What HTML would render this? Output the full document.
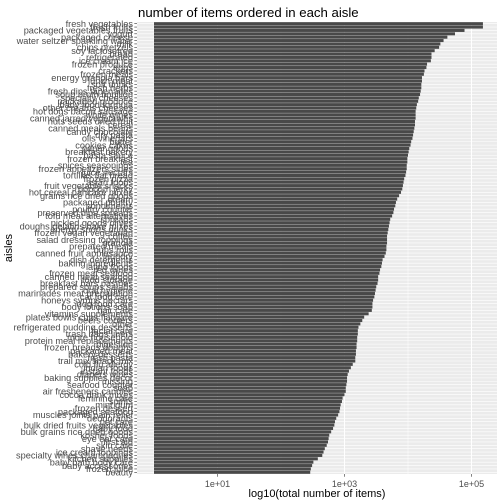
<!DOCTYPE html>
<html><head><meta charset="utf-8"><style>
html,body{margin:0;padding:0;background:#fff;}
svg{display:block;font-family:"Liberation Sans",sans-serif;}
</style></head><body>
<svg id="chart" width="504" height="504" viewBox="0 0 504 504" xmlns="http://www.w3.org/2000/svg">
<rect x="0" y="0" width="504" height="504" fill="#fff"/>
<text x="138" y="17" font-size="13.2" fill="#000">number of items ordered in each aisle</text>
<rect x="137" y="22" width="360" height="452" fill="#EBEBEB"/>
<g id="grid"></g>
<g id="bars"></g>
<g id="yaxis"></g>
<g id="xaxis"></g>
<text x="317" y="497" font-size="11" text-anchor="middle" fill="#000">log10(total number of items)</text>
<text transform="translate(12,248) rotate(-90)" font-size="11" text-anchor="middle" fill="#000">aisles</text>
</svg>
<script>
const aisles = ["fresh vegetables","fresh fruits","packaged vegetables fruits","yogurt","packaged cheese","water seltzer sparkling water","milk","chips pretzels","soy lactosefree","bread","refrigerated","ice cream ice","frozen produce","eggs","crackers","frozen meals","energy granola bars","lunch meat","soft drinks","fresh herbs","fresh dips tapenades","soup broth bouillon","specialty cheeses","packaged produce","baby food formula","other creams cheeses","hot dogs bacon sausage","white wines","canned jarred vegetables","nuts seeds dried fruit","cereal","canned meals beans","candy chocolate","dry pasta","oils vinegars","butter","cookies cakes","paper goods","breakfast bakery","pasta sauce","frozen breakfast","tea","spices seasonings","frozen appetizers sides","juice nectars","tortillas flat bread","frozen pizza","asian foods","fruit vegetable snacks","popcorn jerky","hot cereal pancake mixes","grains rice dried goods","cream","packaged poultry","condiments","poultry counter","preserved dips spreads","tofu meat alternatives","spreads","pickled goods olives","doughs gelatins bake mixes","energy sports drinks","frozen vegan vegetarian","coffee","salad dressing toppings","granola","prepared meals","buns rolls","canned fruit applesauce","laundry","dish detergents","baking ingredients","latino foods","red wines","frozen meat seafood","canned meat seafood","food storage","breakfast bars pastries","prepared soups salads","oral hygiene","marinades meat preparation","cat food care","honeys syrups nectars","dog food care","body lotions soap","hair care","vitamins supplements","plates bowls cups flatware","beers coolers","other","refrigerated pudding desserts","facial care","trash bags liners","more household","protein meal replacements","digestion","frozen breads doughs","packaged meat","bakery desserts","fresh pasta","trail mix snack mix","cold flu allergy","indian foods","instant foods","diapers wipes","baking supplies decor","missing","seafood counter","soap","air fresheners candles","cocoa drink mixes","feminine care","spirits","mint gum","frozen dessert","packaged seafood","muscles joints pain relief","deodorants","pet care","bulk dried fruits vegetables","baby food","bulk grains rice dried goods","kosher foods","eye ear care","first aid","skin care","shave needs","ice cream toppings","specialty wines champagnes","kitchen supplies","baby bath body care","baby accessories","frozen juice","beauty"];
const log10Totals = [5.18,5.18,4.89,4.74,4.62,4.56,4.51,4.49,4.42,4.37,4.37,4.36,4.30,4.29,4.26,4.25,4.22,4.22,4.21,4.21,4.20,4.19,4.17,4.16,4.14,4.13,4.12,4.12,4.12,4.11,4.11,4.10,4.09,4.08,4.07,4.05,4.04,4.02,4.01,4.00,3.99,3.99,3.98,3.98,3.97,3.96,3.94,3.93,3.92,3.91,3.89,3.86,3.83,3.81,3.80,3.78,3.77,3.75,3.72,3.71,3.70,3.69,3.68,3.67,3.67,3.67,3.66,3.66,3.65,3.63,3.60,3.59,3.58,3.56,3.55,3.53,3.53,3.52,3.50,3.49,3.48,3.47,3.45,3.44,3.44,3.43,3.38,3.31,3.28,3.25,3.22,3.21,3.21,3.20,3.20,3.19,3.19,3.18,3.18,3.17,3.17,3.13,3.10,3.07,3.05,3.04,3.04,3.03,3.02,3.02,3.00,2.97,2.96,2.94,2.93,2.92,2.90,2.87,2.85,2.84,2.82,2.79,2.76,2.75,2.74,2.72,2.69,2.67,2.65,2.58,2.51,2.49,2.47,2.46];
const majorTicks = [1,3,5];
const tickLabels = ["1e+01","1e+03","1e+05"];
const minorTicks = [0,2,4];

const NS = "http://www.w3.org/2000/svg";
const panelTop = 22, panelBottom = 474, panelLeft = 137, panelRight = 497;
function xScale(v){ return 154 + v * 63.5; }
const band = (panelBottom - panelTop) / aisles.length;
function yScale(i){ return panelTop + (i + 0.5) * band; }
function mk(tag, attrs, parent){ const e = document.createElementNS(NS, tag); for (const k in attrs) e.setAttribute(k, attrs[k]); parent.appendChild(e); return e; }

const grid = document.getElementById('grid');
minorTicks.forEach(t => {
  const l = mk('line', {x1:xScale(t), x2:xScale(t), y1:panelTop, y2:panelBottom, stroke:'#fff', 'stroke-width':0.5}, grid);
  
  
});
majorTicks.forEach(t => {
  const l = mk('line', {x1:xScale(t), x2:xScale(t), y1:panelTop, y2:panelBottom, stroke:'#fff', 'stroke-width':1}, grid);
  
  
});
aisles.forEach((a, i) => {
  const l = mk('line', {x1:panelLeft, x2:panelRight, y1:yScale(i), y2:yScale(i), stroke:'#fff', 'stroke-width':0.6}, grid);
  
  
});

const bars = document.getElementById('bars');
const yaxis = document.getElementById('yaxis');
aisles.forEach((a, i) => {
  const v = log10Totals[i];
  const x0 = xScale(0), x1 = xScale(v);
  const r = mk('rect', {x:x0, y:yScale(i) - band*0.45, width:x1 - x0, height:band*0.9, fill:'#494949'}, bars);
  
  
  const tk = mk('line', {x1:134.3, x2:137, y1:yScale(i), y2:yScale(i), stroke:'#333', 'stroke-width':0.6}, yaxis);
  
  
  const t = mk('text', {x:133, y:yScale(i) + 3.2, 'font-size':9.2, 'text-anchor':'end', fill:'#4D4D4D'}, yaxis);
  t.textContent = a;
  
  
});

const xaxis = document.getElementById('xaxis');
majorTicks.forEach((t, k) => {
  const l = mk('line', {x1:xScale(t), x2:xScale(t), y1:panelBottom, y2:panelBottom + 2.7, stroke:'#333', 'stroke-width':0.6}, xaxis);
  
  
  const tx = mk('text', {x:xScale(t), y:487, 'font-size':9, 'text-anchor':'middle', fill:'#4D4D4D'}, xaxis);
  tx.textContent = tickLabels[k];
  
  
});
</script>
</body></html>
